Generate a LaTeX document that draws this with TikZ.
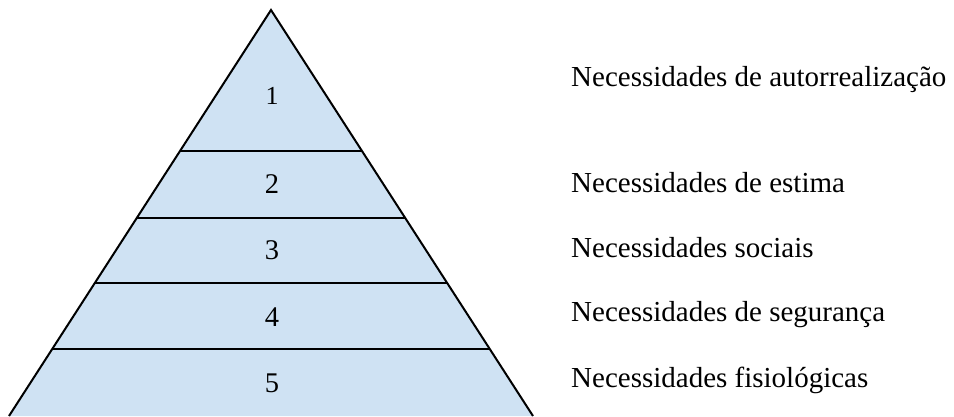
\documentclass[tikz,border=0pt]{standalone}
\usepackage{fontspec}
\setmainfont{Liberation Serif}
\definecolor{layerblue}{HTML}{CFE2F3}
\tikzset{
  level/.style={font=\fontsize{28.5}{34}\selectfont, anchor=center, inner sep=0pt},
  need/.style={font=\fontsize{29}{34}\selectfont, anchor=west, inner sep=0pt},
  edge/.style={draw=black, line width=2pt}
}
\begin{document}
\begin{tikzpicture}[x=1pt,y=-1pt]
  \useasboundingbox (0,0) rectangle (954,416);
  % pyramid body
  \coordinate (apex) at (271,10);
  \coordinate (bl) at (9,416);
  \coordinate (br) at (533,416);
  \fill[layerblue] (apex) -- (bl) -- (br) -- cycle;
  % layer separators
  \draw[edge] (180,151) -- (362,151);
  \draw[edge] (137,218) -- (405,218);
  \draw[edge] (95,283) -- (447,283);
  \draw[edge] (52,349) -- (490,349);
  % sides
  \draw[edge, line join=miter] (bl) -- (apex) -- (br);
  % layer numbers
  \node[level, font=\fontsize{26}{30}\selectfont] (n1) at (272,96) {1};
  \node[level] (n2) at (272,184) {2};
  \node[level] (n3) at (272,250) {3};
  \node[level] (n4) at (272,317) {4};
  \node[level] (n5) at (272,383) {5};
  % needs
  \node[need] (t1) at (571,80) {Necessidades de autorrealização};
  \node[need] (t2) at (571,183) {Necessidades de estima};
  \node[need] (t3) at (571,248) {Necessidades sociais};
  \node[need] (t4) at (571,315) {Necessidades de segurança};
  \node[need] (t5) at (571,380) {Necessidades fisiológicas};
\end{tikzpicture}
\end{document}
